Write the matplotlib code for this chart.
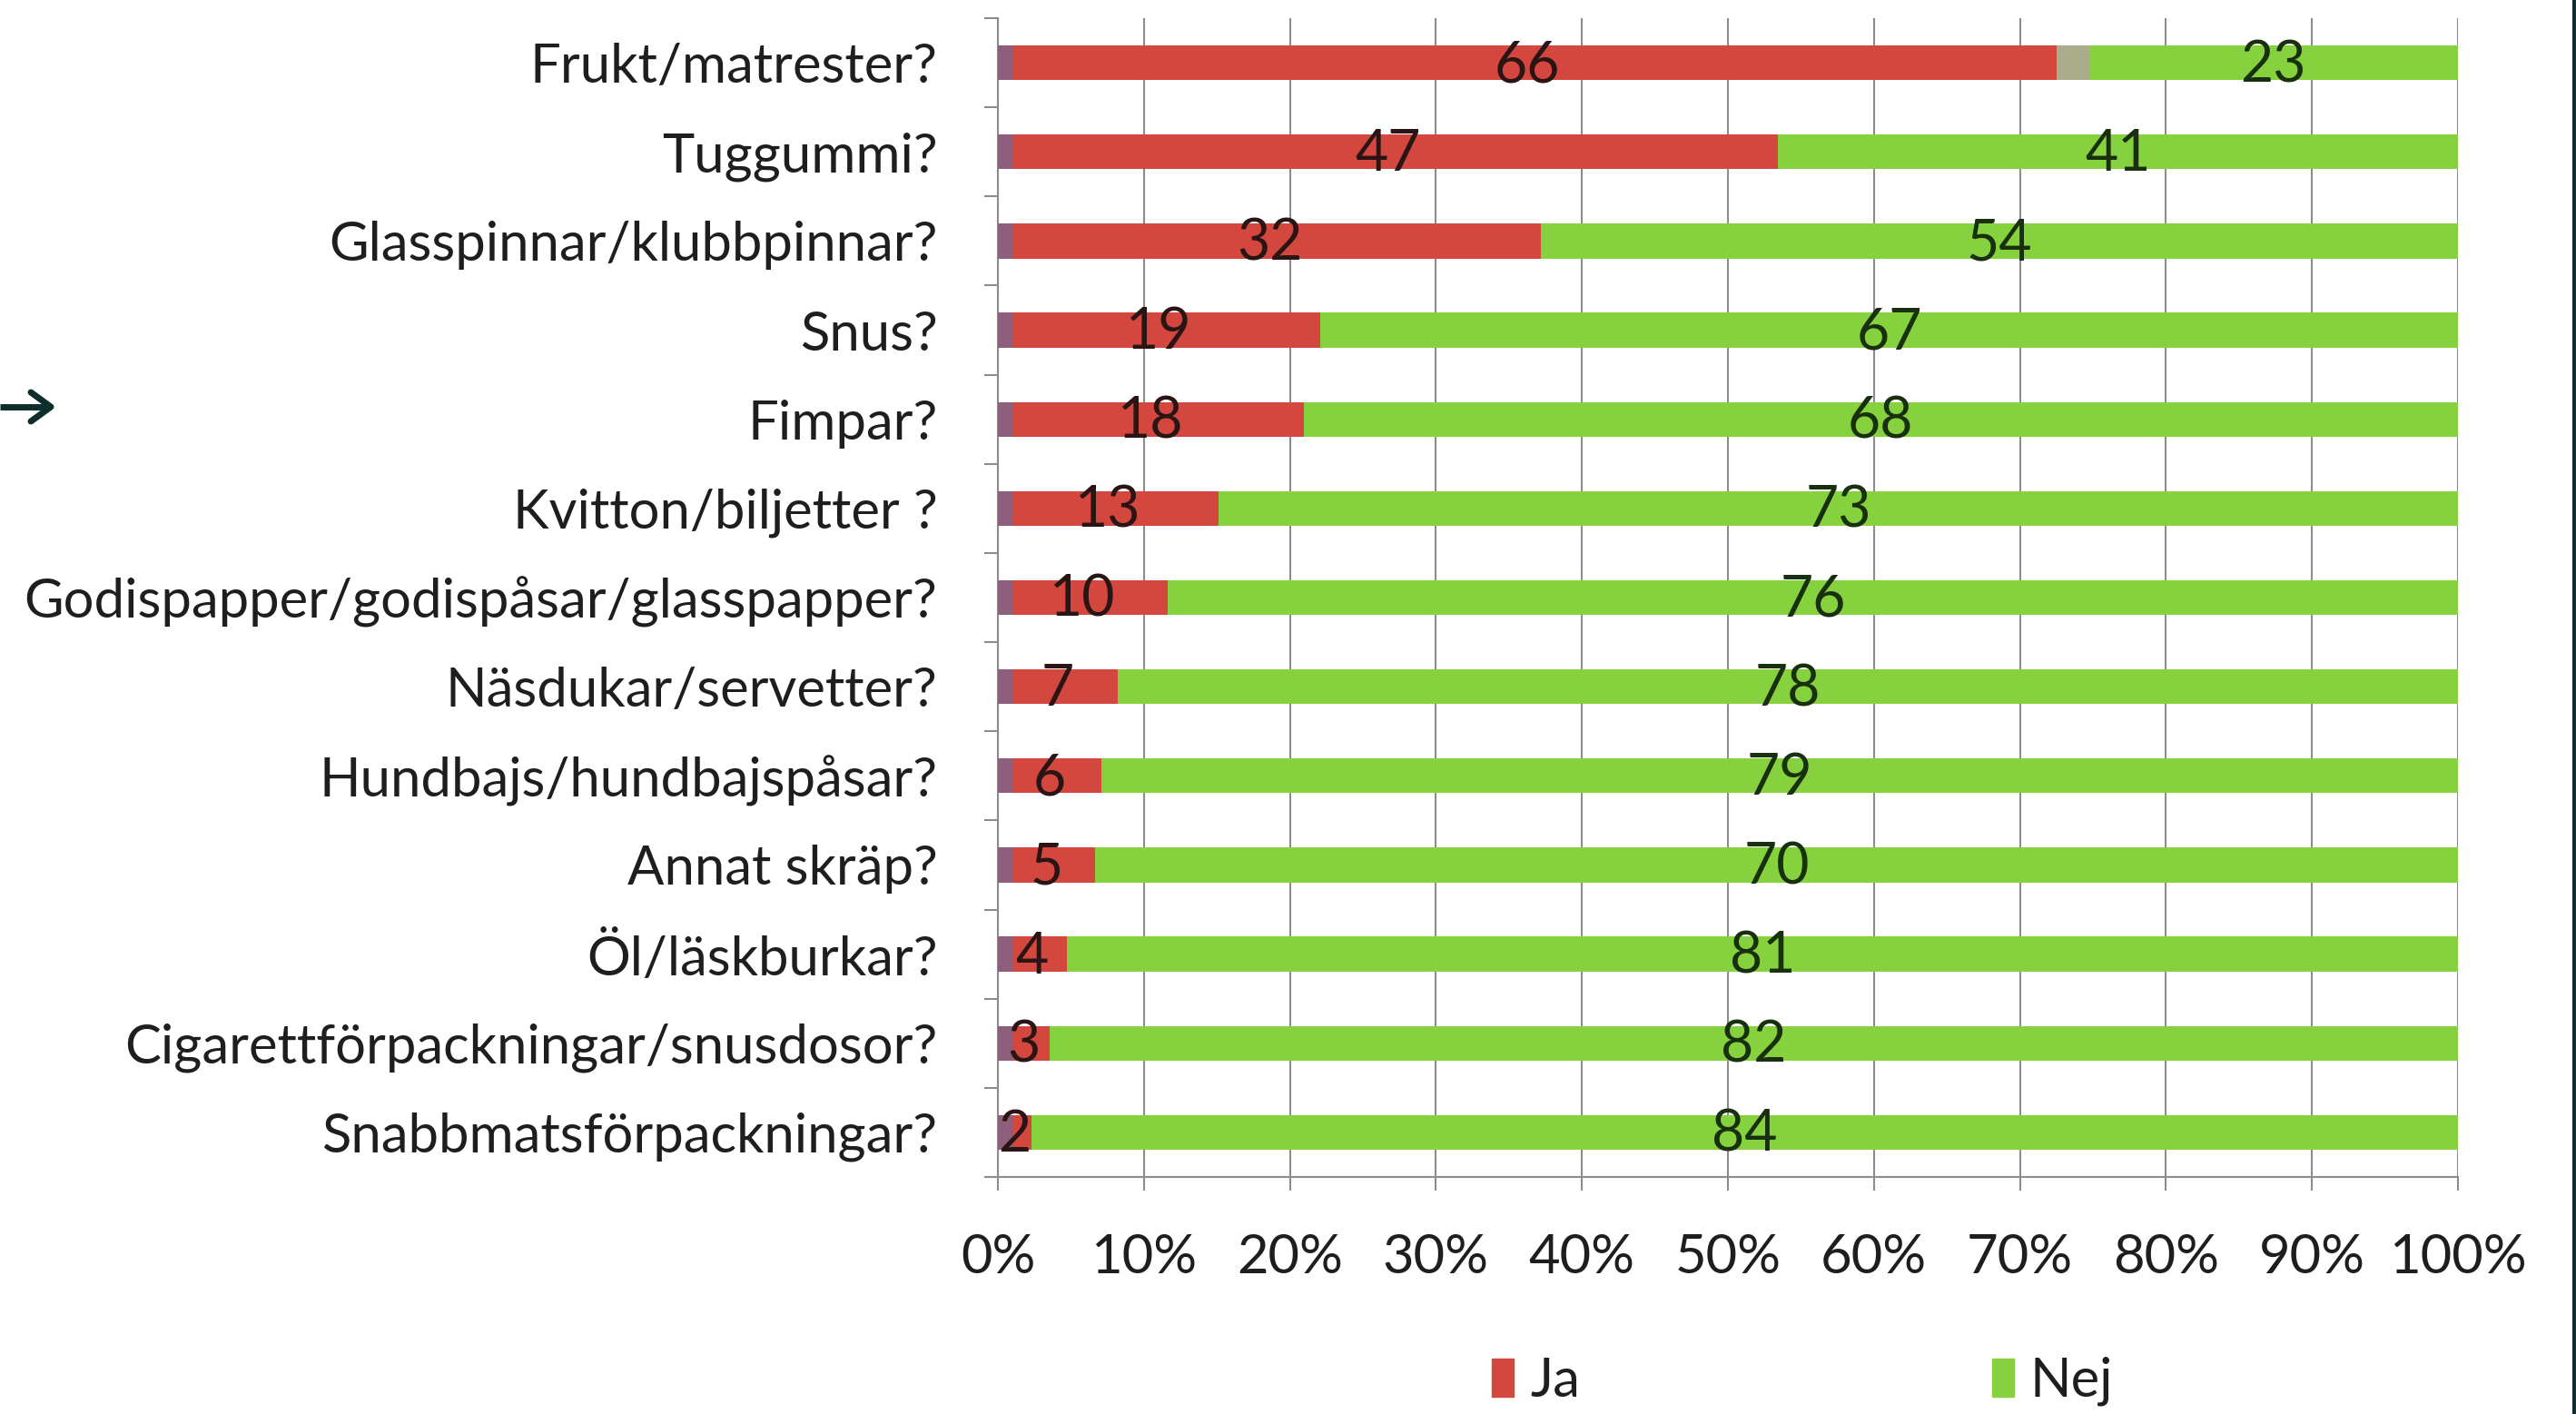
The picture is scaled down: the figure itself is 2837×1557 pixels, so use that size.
"""Swedish litter survey — 100 % stacked bars, Ja / Nej per litter type."""
import matplotlib
matplotlib.use("Agg")
import matplotlib.pyplot as plt
import matplotlib.patches as mpatches
from matplotlib.lines import Line2D
import numpy as np

plt.rcParams["font.family"] = ["Lato", "DejaVu Sans"]

# ── data ────────────────────────────────────────────────────────────────────
categories = [
    "Frukt/matrester?", "Tuggummi?", "Glasspinnar/klubbpinnar?", "Snus?",
    "Fimpar?", "Kvitton/biljetter ?", "Godispapper/godispåsar/glasspapper?",
    "Näsdukar/servetter?", "Hundbajs/hundbajspåsar?", "Annat skräp?",
    "Öl/läskburkar?", "Cigarettförpackningar/snusdosor?",
    "Snabbmatsförpackningar?",
]
ja    = [66, 47, 32, 19, 18, 13, 10, 7, 6, 5, 4, 3, 2]
other = [2, 0, 0, 0, 0, 0, 0, 0, 0, 0, 0, 0, 0]       # unlabeled grey sliver
nej   = [23, 41, 54, 67, 68, 73, 76, 78, 79, 70, 81, 82, 84]
blank_pct = [1.0] * 13                                 # thin dark sliver at 0 %
x_ticks = list(range(0, 101, 10))

# ── colours ─────────────────────────────────────────────────────────────────
C_RED   = "#D4473F"
C_GREEN = "#86D23E"
C_GREY  = "#A9AD8C"
C_BLANK = "#8E5E7C"
C_GRID  = "#8C8C8C"
C_TEXT  = "#1E1E1E"
C_FRAME = "#0C2E2C"

W, H = 2837, 1557
fig = plt.figure(figsize=(W / 100, H / 100), dpi=100, facecolor="white")
ax = fig.add_axes([1099 / W, 1 - 1296 / H, (2707 - 1099) / W, (1296 - 20) / H])

ja_a, ot_a, nej_a = np.array(ja, float), np.array(other, float), np.array(nej, float)
tot = ja_a + ot_a + nej_a
ja_p, ot_p, nej_p = ja_a / tot * 100, ot_a / tot * 100, nej_a / tot * 100
y = np.arange(len(categories))
bh = 0.39

ax.barh(y, ja_p, height=bh, color=C_RED, zorder=3)
ax.barh(y, ot_p, left=ja_p, height=bh, color=C_GREY, zorder=3)
ax.barh(y, nej_p, left=ja_p + ot_p, height=bh, color=C_GREEN, zorder=3)
ax.barh(y, blank_pct, height=bh, color=C_BLANK, zorder=4)

for i in range(len(categories)):
    ax.text(ja_p[i] / 2, y[i] + 0.03, str(ja[i]), ha="center", va="center",
            fontsize=45, color="#2A1414", zorder=5)
    ax.text(ja_p[i] + ot_p[i] + nej_p[i] / 2, y[i] + 0.03, str(nej[i]),
            ha="center", va="center", fontsize=45, color="#18300E", zorder=5)

ax.set_xlim(0, 100)
ax.set_ylim(len(categories) - 0.5, -0.5)
ax.set_xticks(x_ticks)
ax.set_xticklabels([f"{v}%" for v in x_ticks])
ax.set_yticks(y)
ax.set_yticklabels(categories)
ax.set_yticks(np.arange(len(categories) + 1) - 0.5, minor=True)

ax.grid(True, axis="x", color=C_GRID, linewidth=1.5, zorder=0)
ax.set_axisbelow(True)
for side in ("top", "right"):
    ax.spines[side].set_visible(False)
for side in ("left", "bottom"):
    ax.spines[side].set_color(C_GRID)
    ax.spines[side].set_linewidth(1.5)

ax.tick_params(axis="x", length=11, width=1.5, color=C_GRID, pad=34,
               labelsize=43, labelcolor=C_TEXT)
ax.tick_params(axis="y", which="major", length=0, pad=48,
               labelsize=43, labelcolor=C_TEXT)
ax.tick_params(axis="y", which="minor", length=11, width=1.5, color=C_GRID)

handles = [mpatches.Patch(color=C_RED, label="Ja"),
           mpatches.Patch(color=C_GREEN, label="Nej")]
fig.legend(handles=handles, loc="center", ncol=2,
           bbox_to_anchor=(1985 / W, 1 - 1521 / H), frameon=False,
           fontsize=43, handlelength=0.4, handleheight=0.7,
           handletextpad=0.3, columnspacing=7.6, labelcolor=C_TEXT)

# decorations from the page around the chart
fig.add_artist(Line2D([0, 56 / W], [1 - 448 / H] * 2, color=C_FRAME, lw=5,
                      solid_capstyle="butt"))
fig.add_artist(Line2D([34 / W, 56 / W, 34 / W],
                      [1 - 432 / H, 1 - 448 / H, 1 - 464 / H],
                      color=C_FRAME, lw=5, solid_capstyle="round"))
fig.add_artist(Line2D([1 - 2 / W] * 2, [0, 1], color=C_FRAME, lw=3))

fig.savefig("out.png", dpi=100, facecolor="white")
